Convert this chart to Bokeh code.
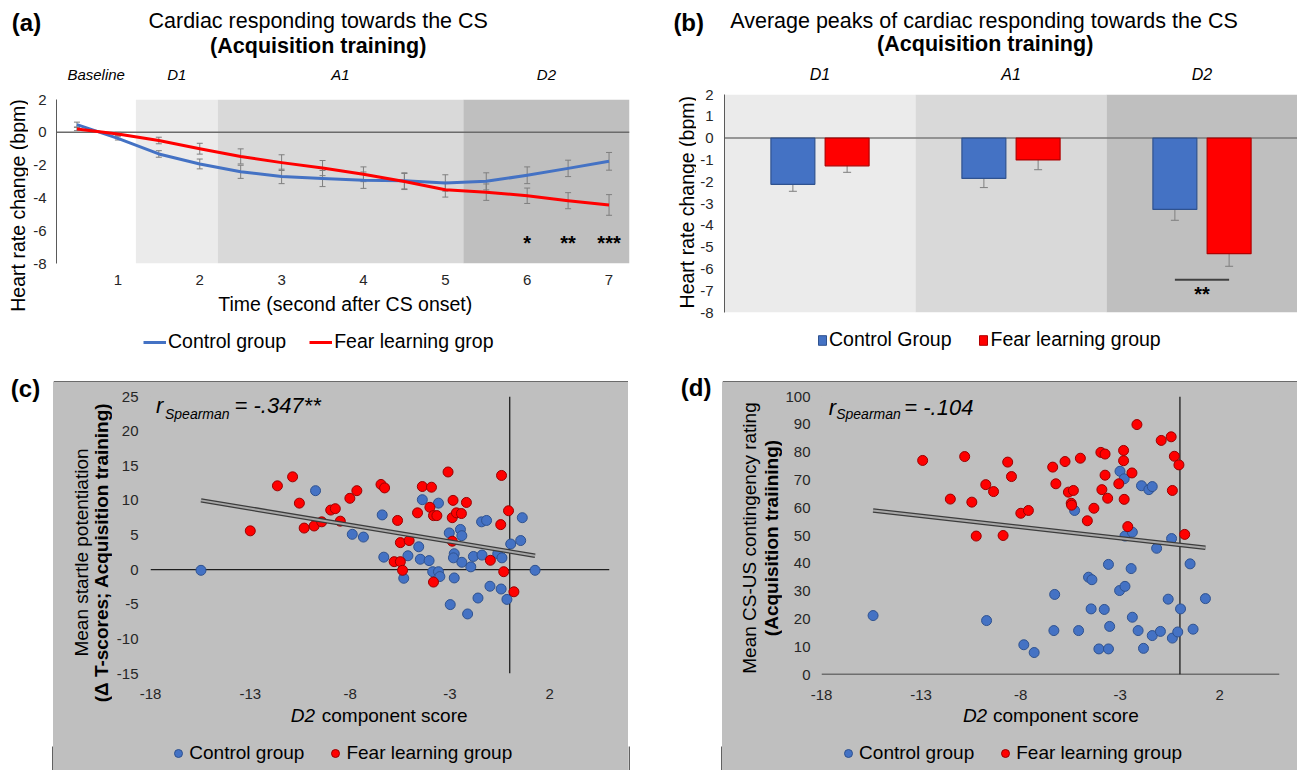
import math
import numpy as np
from bokeh.plotting import figure
from bokeh.models import (Range1d, FixedTicker, Span, BoxAnnotation, Label, Legend,
                          LegendItem, Whisker, ColumnDataSource, TeeHead, LinearAxis)
from bokeh.layouts import row, column
from bokeh.embed import file_html
from bokeh.resources import INLINE
from bokeh.core.properties import value

FONT = "Liberation Sans"
BLUE, BLUE_EDGE = "#4472C4", "#2F528F"
RED, RED_EDGE = "#FF0000", "#9A0000"
ERR = "#7f7f7f"
SHADES = {"Baseline": "#ffffff", "D1": "#ebebeb", "A1": "#d9d9d9", "D2": "#bfbfbf"}
BOX_GRAY = "#bfbfbf"
BOX_EDGE = "#3a3a3a"

# ---------------- data: panel (a) ----------------
time_s = [0.5, 1.0, 1.5, 2.0, 2.5, 3.0, 3.5, 4.0, 4.5, 5.0, 5.5, 6.0, 6.5, 7.0]
time_ticks = [1, 2, 3, 4, 5, 6, 7]
control_hr = [0.47, -0.37, -1.32, -1.93, -2.41, -2.69, -2.82, -2.92, -2.96, -3.09, -2.99, -2.62, -2.20, -1.77]
control_hr_se = [0.15, 0.10, 0.20, 0.30, 0.40, 0.44, 0.49, 0.50, 0.49, 0.50, 0.52, 0.51, 0.50, 0.54]
fear_hr = [0.20, -0.10, -0.50, -1.00, -1.47, -1.85, -2.18, -2.56, -3.00, -3.50, -3.65, -3.87, -4.17, -4.43]
fear_hr_se = [0.10, 0.10, 0.20, 0.33, 0.46, 0.48, 0.46, 0.45, 0.49, 0.45, 0.50, 0.47, 0.49, 0.63]
hr_ticks = [-8, -6, -4, -2, 0, 2]
phase_names_a = ["Baseline", "D1", "A1", "D2"]
phase_edges_a = [0.25, 1.22, 2.22, 5.22, 7.25]
sig_time_a = [6.0, 6.5, 7.0]
sig_marks_a = ["*", "**", "***"]
sig_level_a = -6.75

# ---------------- data: panel (b) ----------------
phases_b = ["D1", "A1", "D2"]
control_peak = [-2.12, -1.85, -3.27]
control_peak_se = [0.32, 0.42, 0.50]
fear_peak = [-1.27, -1.00, -5.30]
fear_peak_se = [0.30, 0.45, 0.58]
peak_ticks = [-8, -7, -6, -5, -4, -3, -2, -1, 0, 1, 2]
sig_phase_b = 2
sig_mark_b = "**"
sig_level_b = -6.5

# ---------------- data: panel (c) ----------------
control_x_c = [-15.47, -9.73, -7.89, -7.33, -6.39, -6.31, -5.31, -5.10, -4.56, -4.48, -4.38, -4.04, -3.86,
               -3.57, -3.57, -3.50, -3.03, -2.98, -2.78, -2.82, -2.78, -2.47, -2.40, -2.40, -2.11, -1.95,
               -1.82, -1.59, -1.41, -1.16, -1.39, -0.99, -0.60, -0.43, -0.39, -0.14, 0.05, 0.55, 0.63, 1.27]
control_y_c = [-0.1, 11.4, 5.1, 4.7, 7.9, 1.8, -1.25, 2.0, 3.3, 1.5, 10.1, 1.3, -0.3,
               -0.3, 9.6, -1.0, 5.3, -5.05, 2.3, 1.7, -1.2, 5.8, 4.9, 1.06, -6.4, 0.4,
               1.9, -4.1, 6.9, 7.1, 2.1, -2.4, 2.3, -2.8, 1.7, -4.3, 3.7, 4.2, 7.5, -0.1]
fear_x_c = [-13.0, -11.64, -10.88, -10.54, -10.3, -9.8, -9.42, -8.97, -8.74, -8.49, -8.01, -7.66, -6.45,
            -6.27, -5.62, -5.79, -5.48, -5.48, -5.37, -5.04, -4.62, -4.38, -4.0, -3.92, -3.82, -3.65,
            -3.82, -3.09, -2.84, -2.88, -2.67, -2.42, -2.17, -2.88, -0.97, -0.45, -0.41, -0.30, -0.06, 0.21]
fear_y_c = [5.6, 12.1, 13.4, 9.6, 6.0, 6.3, 6.9, 8.6, 8.8, 7.0, 10.3, 11.4, 12.3,
            11.8, 7.1, 1.15, 1.15, 3.9, -0.1, 4.2, 8.2, 12.0, 9.0, 11.9, 7.8, 7.8,
            -1.8, 14.1, 10.0, 7.5, 8.2, 8.1, 9.7, 4.1, 1.35, 6.5, 13.6, -0.3, 8.5, -3.2]
trend_c = (-0.477, 2.62)   # slope, intercept
r_text_c = "= -.347**"
ticks_y_c = [-15, -10, -5, 0, 5, 10, 15, 20, 25]

# ---------------- data: panel (d) ----------------
control_x_d = [-15.41, -9.71, -7.84, -7.32, -6.33, -6.29, -5.29, -5.09, -4.59, -4.42, -4.46, -3.80, -4.07,
               -3.59, -3.59, -3.53, -3.03, -3.01, -2.80, -2.76, -2.76, -2.45, -2.39, -2.39, -2.10, -1.93,
               -1.83, -1.56, -1.39, -1.39, -1.17, -0.98, -0.59, -0.42, -0.38, -0.11, 0.03, 0.51, 0.66, 1.28]
control_y_d = [21.2, 19.4, 10.7, 7.9, 15.8, 28.8, 59.0, 15.8, 35.0, 34.1, 23.6, 23.4, 9.2,
               9.2, 39.6, 17.3, 30.2, 73.1, 70.4, 31.7, 49.8, 38.1, 20.6, 51.2, 15.8, 67.9,
               9.4, 66.5, 67.6, 14.0, 45.4, 15.5, 27.1, 48.9, 13.1, 15.3, 23.6, 39.8, 16.3, 27.3]
fear_x_d = [-12.92, -11.53, -10.81, -10.45, -10.23, -9.75, -9.36, -8.88, -8.65, -8.46, -7.99, -7.61, -6.39,
            -6.23, -5.77, -5.60, -5.46, -5.44, -5.35, -5.00, -4.65, -4.32, -3.97, -3.76, -3.92, -3.76,
            -3.63, -3.07, -2.83, -2.83, -2.80, -2.62, -2.41, -2.16, -0.94, -0.44, -0.28, -0.38, -0.05, 0.24]
fear_y_d = [77.0, 63.1, 78.4, 62.0, 49.8, 68.3, 65.8, 50.0, 76.4, 71.2, 58.0, 59.0, 74.6,
            68.6, 76.6, 65.6, 61.6, 60.9, 66.2, 77.8, 55.3, 59.8, 79.9, 79.3, 66.5, 71.7,
            63.4, 68.6, 80.6, 76.9, 63.0, 53.2, 72.5, 89.9, 84.2, 85.5, 78.5, 66.2, 75.4, 50.4]
trend_d = (-0.803, 46.6)
r_text_d = "= -.104"
ticks_y_d = [0, 10, 20, 30, 40, 50, 60, 70, 80, 90, 100]

ticks_x_cd = [-18, -13, -8, -3, 2]
x_range_cd = (-18, 5)

NONE = np.array([np.nan])   # legend-only renderers carry no visible mark


# ---------------- helpers ----------------
def wrap(x):
    return column(x)


def make_fig(W, H, frame, xr, yr, bg="white", border="white", xloc="below"):
    L, T, FW, FH = frame
    p = figure(width=W, height=H, x_range=Range1d(*xr), y_range=Range1d(*yr),
               output_backend="svg", toolbar_location=None, x_axis_location=xloc,
               min_border_left=L, min_border_top=T,
               min_border_right=W - L - FW, min_border_bottom=H - T - FH,
               outline_line_color=None, border_fill_color=border,
               background_fill_color=bg)
    p.xgrid.visible = False
    p.ygrid.visible = False
    return p


def make_strip(W, H, bg="white"):
    p = figure(width=W, height=H, x_range=Range1d(0, W), y_range=Range1d(0, H),
               output_backend="svg", toolbar_location=None,
               x_axis_location=None, y_axis_location=None,
               min_border=0, min_border_left=0, min_border_right=0,
               min_border_top=0, min_border_bottom=0,
               outline_line_color=None, border_fill_color=bg, background_fill_color=bg)
    p.xgrid.visible = False
    p.ygrid.visible = False
    return p


def edge(p, left, right, bottom, top):
    # thin dark rule (part of the grey box's border), in the strip's pixel space
    p.add_layout(BoxAnnotation(left=left, right=right, bottom=bottom, top=top,
                               fill_color=BOX_EDGE, fill_alpha=1, line_color=None))


def style_axis(ax, ticks, size, standoff, line_color=None, italic=False, names=None):
    ax.ticker = FixedTicker(ticks=ticks)
    if names is None:
        names = [f"{t:g}" for t in ticks]   # plain hyphen-minus, as in the original
    ax.major_label_overrides = {t: n for t, n in zip(ticks, names)}
    ax.major_label_text_font = FONT
    ax.major_label_text_font_size = size
    ax.major_label_text_color = "#262626" if not italic else "black"
    ax.major_label_text_font_style = "italic" if italic else "normal"
    ax.major_label_standoff = standoff
    ax.major_tick_out = 0
    ax.major_tick_in = 0
    ax.minor_tick_out = 0
    ax.minor_tick_in = 0
    ax.major_tick_line_color = None
    ax.minor_tick_line_color = None
    ax.axis_line_color = line_color
    ax.axis_line_width = 1


def stxt(p, H, x, y_top, text, size, style="normal", align="center", angle=0):
    p.add_layout(Label(x=x, y=H - y_top, x_units="screen", y_units="screen", text=text,
                       text_font=FONT, text_font_size=size, text_font_style=style,
                       text_align=align, text_baseline="middle", angle=angle,
                       text_color="black"))


def ftxt(p, x, y, text, size, style="normal", align="left"):
    # screen position relative to the frame's bottom-left corner
    p.add_layout(Label(x=x, y=y, x_units="screen", y_units="screen", text=text,
                       text_font=FONT, text_font_size=size, text_font_style=style,
                       text_align=align, text_baseline="middle", text_color="black"))


def strip_legend(p, H, items, x_left, y_center, gw, gh, standoff, spacing, size):
    rh = max(gh, 22)
    p.add_layout(Legend(items=items, orientation="horizontal",
                        location=(x_left, H - (y_center + rh / 2)),
                        glyph_width=gw, glyph_height=gh, label_standoff=standoff,
                        spacing=spacing, padding=0, margin=0, border_line_color=None,
                        background_fill_alpha=0, label_text_font=FONT,
                        label_text_color="black",
                        label_text_font_size=size, label_height=22))


def whisker(p, xs, vals, ses, head):
    src = ColumnDataSource(dict(x=xs, lo=[v - s for v, s in zip(vals, ses)],
                                hi=[v + s for v, s in zip(vals, ses)]))
    p.add_layout(Whisker(base="x", lower="lo", upper="hi", source=src, line_color=ERR,
                         line_width=1,
                         upper_head=TeeHead(size=head, line_color=ERR, line_width=1),
                         lower_head=TeeHead(size=head, line_color=ERR, line_width=1)))


# ================= panel (a) =================
FA = (28, 41, 573, 164)
pa = make_fig(622, 233, FA, (phase_edges_a[0], phase_edges_a[-1]), (hr_ticks[0], hr_ticks[-1]))
for name, lo, hi in zip(phase_names_a, phase_edges_a[:-1], phase_edges_a[1:]):
    pa.add_layout(BoxAnnotation(left=lo, right=hi, fill_color=SHADES[name], fill_alpha=1,
                                line_color=None, level="underlay"))
pa.add_layout(Span(location=0, dimension="width", line_color="#6b6b6b", line_width=1.5,
                   level="underlay"))
style_axis(pa.xaxis[0], time_ticks, "15px", 11)
style_axis(pa.yaxis[0], hr_ticks, "15px", 10, line_color="#5a5a5a")
centers_a = [(lo + hi) / 2 for lo, hi in zip(phase_edges_a[:-1], phase_edges_a[1:])]
top_a = LinearAxis()
style_axis(top_a, centers_a, "15px", 17, italic=True, names=phase_names_a)
pa.add_layout(top_a, "above")
whisker(pa, time_s, control_hr, control_hr_se, 6)
whisker(pa, time_s, fear_hr, fear_hr_se, 6)
pa.line(time_s, control_hr, line_color=BLUE, line_width=3, line_join="round")
pa.line(time_s, fear_hr, line_color=RED, line_width=3, line_join="round")
pa.text(x=sig_time_a, y=[sig_level_a] * len(sig_time_a), text=sig_marks_a,
        text_font=value(FONT), text_font_size=value("20px"), text_font_style="bold",
        text_align="center", text_baseline="middle", text_color="black")

ta = make_strip(650, 58)
stxt(ta, 58, 26, 21.7, "(a)", "24px", style="bold")
stxt(ta, 58, 317.7, 20.7, "Cardiac responding towards the CS", "21.5px")
stxt(ta, 58, 317.7, 45, "(Acquisition training)", "21.5px", style="bold")

la = make_strip(28, 307)
stxt(la, 307, 17, 147, "Heart rate change (bpm)", "19.5px", angle=math.pi / 2)

ba = make_strip(622, 74)
stxt(ba, 74, 316.8, 12, "Time (second after CS onset)", "19.5px")
da1 = ba.line(x=NONE, y=NONE, line_color=BLUE, line_width=3)
da2 = ba.line(x=NONE, y=NONE, line_color=RED, line_width=3)
strip_legend(ba, 74, [LegendItem(label="Control group", renderers=[da1]),
                      LegendItem(label="Fear learning grop", renderers=[da2])],
             115, 51, 23, 20, 2, 23, "19.5px")

col_a = column(wrap(ta), row(wrap(la), column(wrap(pa), wrap(ba))))

# ================= panel (b) =================
FB = (28, 34, 573, 218)
cat_w = 191.0
pb = make_fig(601, 262, FB, (0, FB[2] / cat_w), (peak_ticks[0], peak_ticks[-1]), xloc=None)
xc = [i + 0.5 for i in range(len(phases_b))]
off, bw = 0.142, 0.23
xb = [c - off for c in xc]
xr = [c + off for c in xc]
for i, name in enumerate(phases_b):
    pb.add_layout(BoxAnnotation(left=i, right=i + 1, fill_color=SHADES[name], fill_alpha=1,
                                line_color=None, level="underlay"))
pb.add_layout(Span(location=0, dimension="width", line_color="#7a7a7a", line_width=1.5,
                   level="underlay"))
style_axis(pb.yaxis[0], peak_ticks, "15px", 11, line_color="#5a5a5a")
top_b = LinearAxis()
style_axis(top_b, xc, "16px", 12, italic=True, names=phases_b)
pb.add_layout(top_b, "above")
pb.vbar(x=xb, top=control_peak, bottom=0, width=bw, fill_color=BLUE,
        line_color=BLUE_EDGE, line_width=1.2)
pb.vbar(x=xr, top=fear_peak, bottom=0, width=bw, fill_color=RED,
        line_color="#B00000", line_width=1.2)
whisker(pb, xb, control_peak, control_peak_se, 8)
whisker(pb, xr, fear_peak, fear_peak_se, 8)
pb.segment(x0=[xb[sig_phase_b]], y0=[sig_level_b], x1=[xr[sig_phase_b]], y1=[sig_level_b],
           line_color="#404040", line_width=2)
pb.text(x=[(xb[sig_phase_b] + xr[sig_phase_b]) / 2], y=[sig_level_b - 0.65], text=[sig_mark_b],
        text_font=value(FONT), text_font_size=value("20px"), text_font_style="bold",
        text_align="center", text_baseline="middle", text_color="black")

tb = make_strip(647, 60)
stxt(tb, 60, 38.2, 21.7, "(b)", "24px", style="bold")
stxt(tb, 60, 333.5, 20, "Average peaks of cardiac responding towards the CS", "21.5px")
stxt(tb, 60, 334.7, 43.3, "(Acquisition training)", "21.5px", style="bold")

lb = make_strip(46, 262)
stxt(lb, 262, 36, 141.7, "Heart rate change (bpm)", "19.5px", angle=math.pi / 2)

bb = make_strip(647, 43)
db1 = bb.vbar(x=NONE, top=NONE, width=1, fill_color=BLUE, line_color=BLUE_EDGE, line_width=1)
db2 = bb.vbar(x=NONE, top=NONE, width=1, fill_color=RED, line_color="#B00000", line_width=1)
strip_legend(bb, 43, [LegendItem(label="Control Group", renderers=[db1]),
                      LegendItem(label="Fear learning group", renderers=[db2])],
             167, 18, 10, 12, 2, 27, "19.5px")

col_b = column(wrap(tb), row(wrap(lb), wrap(pb)), wrap(bb))


# ================= panels (c) and (d) =================
def scatter_main(W, frame, yticks, ystandoff, cx, cy, fx, fy, trend, r_pos, r_text):
    p = make_fig(W, 320, frame, x_range_cd, (yticks[0], yticks[-1]), bg=BOX_GRAY, border=BOX_GRAY)
    p.add_layout(Span(location=0, dimension="width", line_color="#1e1e1e", line_width=1.3,
                      level="underlay"))
    p.add_layout(Span(location=0, dimension="height", line_color="#1e1e1e", line_width=1.3,
                      level="underlay"))
    style_axis(p.xaxis[0], ticks_x_cd, "15px", 15)
    style_axis(p.yaxis[0], yticks, "15px", ystandoff)
    p.scatter(cx, cy, size=10, fill_color=BLUE, line_color=BLUE_EDGE, line_width=1)
    p.scatter(fx, fy, size=10, fill_color=RED, line_color=RED_EDGE, line_width=1)
    allx = cx + fx
    tx = [min(allx), max(allx)]
    ty = [trend[0] * x + trend[1] for x in tx]
    p.line(tx, ty, line_color="#3c3c3c", line_width=4.5)
    p.line(tx, ty, line_color="#a8a8a8", line_width=2)
    rx, sx, ex, ry, sy = r_pos
    ftxt(p, rx, ry, "r", "22px", style="italic")
    ftxt(p, sx, sy, "Spearman", "14px", style="italic")
    ftxt(p, ex, ry, r_text, "22px", style="italic")
    return p


def scatter_bottom(W, d2x, compx, legx):
    s = make_strip(W, 68, bg=BOX_GRAY)
    stxt(s, 68, d2x, 13, "D2", "19px", style="italic", align="left")
    stxt(s, 68, compx, 13, "component score", "19px", align="left")
    g1 = s.scatter(x=NONE, y=NONE, size=10, fill_color=BLUE, line_color=BLUE_EDGE, line_width=1)
    g2 = s.scatter(x=NONE, y=NONE, size=10, fill_color=RED, line_color=RED_EDGE, line_width=1)
    strip_legend(s, 68, [LegendItem(label="Control group", renderers=[g1]),
                         LegendItem(label="Fear learning group", renderers=[g2])],
                 legx, 51, 20, 20, 1, 21, "19px")
    return s


def scatter_left(W, x1, x2, yc, t1, t2):
    s = make_strip(W, 320, bg=BOX_GRAY)
    stxt(s, 320, x1, yc, t1, "19px", angle=math.pi / 2)
    stxt(s, 320, x2, yc, t2, "19px", style="bold", angle=math.pi / 2)
    return s


def box_top(W):
    s = make_strip(W, 17)
    edge(s, 0, W, 0, 1.3)
    return s


BOX_STYLE = {"background-color": BOX_GRAY}

# (c)
FC = (38, 14, 459, 277)
pc = scatter_main(516, FC, ticks_y_c, 12, control_x_c, control_y_c, fear_x_c, fear_y_c, trend_c,
                  (5.5, 14.5, 84, 268, 260), r_text_c)
lc = scatter_left(59, 27.8, 48, 170, "Mean startle potentiation",
                  "(\u0394 T-scores; Acquisition training)")
bc = scatter_bottom(575, 237.2, 268.3, 115.3)
box_c = column(row(wrap(lc), wrap(pc)), wrap(bc), styles=BOX_STYLE)
kc = make_strip(53, 405)
stxt(kc, 405, 25, 22.5, "(c)", "24px", style="bold")
edge(kc, 51.7, 53, 0, 24)
col_c = row(wrap(kc), column(wrap(box_top(575)), box_c))

# (d)
FD = (39, 14, 458, 278)
pdd = scatter_main(515, FD, ticks_y_d, 11, control_x_d, control_y_d, fear_x_d, fear_y_d, trend_d,
                   (7.3, 14.7, 82.8, 267.3, 261), r_text_d)
ld = scatter_left(60, 27, 49, 155.5, "Mean CS-US contingency rating", "(Acquisition traiining)")
bd = scatter_bottom(575, 240.4, 270.5, 116.1)
box_d = column(row(wrap(ld), wrap(pdd)), wrap(bd), styles=BOX_STYLE)
kd = make_strip(94, 405)
stxt(kd, 405, 67.6, 21.7, "(d)", "24px", style="bold")
edge(kd, 0, 1.3, 0, 24)
edge(kd, 92.7, 94, 0, 24)
col_d = row(wrap(kd), column(wrap(box_top(575)), box_d))

layout = column(row(col_a, col_b), row(col_c, col_d))
open("out.html", "w").write(file_html(layout, INLINE))
